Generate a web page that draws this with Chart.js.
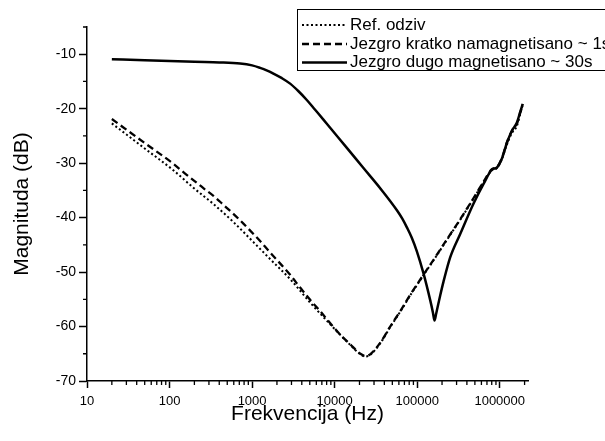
<!DOCTYPE html>
<html>
<head>
<meta charset="utf-8">
<script src="https://cdn.jsdelivr.net/npm/chart.js@4.4.1/dist/chart.umd.min.js"></script>
<style>
  html, body { margin: 0; padding: 0; background: #fff; }
  canvas { display: block; }
</style>
</head>
<body>
<canvas id="c" width="605" height="441"></canvas>
<script>
// Frequency response magnitude (dB) versus frequency (Hz)
const seriesLabels = ['Ref. odziv', 'Jezgro kratko namagnetisano ~ 1s', 'Jezgro dugo magnetisano ~ 30s'];

const refFreq = [20, 50, 111, 194, 340, 593, 1038, 1650, 2890, 5050, 8850, 15500, 20500, 23400, 26900, 35600, 47100, 62200, 82200, 119000, 170000, 229000, 332000, 482000, 637000, 804000, 925000, 1060000, 1220000, 1410000, 1610000, 1770000, 1900000];
const refMag = [-22.7, -27.3, -31.3, -34.5, -37.5, -40.8, -44.5, -47.6, -51.3, -55.6, -59.6, -63.4, -65.1, -65.5, -65.2, -63.1, -60.1, -57.3, -54.3, -50.6, -47.1, -44.1, -40.4, -36.5, -33.5, -31.3, -30.9, -29.3, -26.6, -24.4, -23.2, -21.0, -19.3];

const shortFreq = [20, 50, 111, 147, 194, 257, 340, 449, 593, 785, 1038, 1250, 1650, 2180, 2890, 3800, 5050, 6690, 8850, 11700, 15500, 20500, 23400, 26900, 35600, 47100, 62200, 82200, 119000, 170000, 229000, 332000, 482000, 637000, 804000, 925000, 1060000, 1220000, 1410000, 1610000, 1770000, 1900000];
const shortMag = [-21.9, -26.3, -30.1, -31.65, -33.1, -34.6, -36.0, -37.65, -39.3, -41.1, -43.0, -44.3, -46.4, -48.4, -50.5, -52.8, -55.1, -57.2, -59.4, -61.5, -63.3, -65.0, -65.4, -65.1, -63.0, -60.0, -57.2, -54.2, -50.5, -47.0, -44.0, -40.3, -36.4, -33.4, -31.1, -30.7, -29.1, -26.2, -24.0, -22.8, -20.8, -19.2];

const longFreq = [20, 50, 100, 200, 400, 716, 1000, 1250, 1500, 1813, 2300, 2890, 3650, 4600, 5800, 7310, 8820, 14060, 22340, 35600, 56800, 66000, 75000, 86000, 99100, 119000, 144000, 155000, 162000, 170000, 190000, 208000, 251000, 332000, 482000, 637000, 804000, 925000, 1060000, 1220000, 1410000, 1610000, 1770000, 1900000];
const longMag = [-10.9, -11.1, -11.25, -11.4, -11.5, -11.7, -12.05, -12.5, -12.95, -13.55, -14.4, -15.4, -16.8, -18.4, -20.2, -22.0, -23.5, -27.2, -30.9, -34.6, -38.65, -40.2, -41.8, -43.7, -46.2, -50.2, -55.2, -57.4, -58.9, -57.6, -54.3, -51.8, -47.3, -43.0, -37.4, -33.8, -31.2, -30.8, -29.2, -26.3, -24.0, -22.6, -20.6, -19.1];

const xTickValues = [10, 100, 1000, 10000, 100000, 1000000];
const yTickValues = [-70, -60, -50, -40, -30, -20, -10];

const FONT = '"Liberation Sans", Arial, sans-serif';
const toPoints = (fs, ms) => fs.map((f, i) => ({ x: f, y: ms[i] }));

// Short minor tick marks on both axes (outside the plot)
const minorTicks = {
  id: 'minorTicks',
  afterDraw(chart) {
    const { ctx, scales: { x, y } } = chart;
    ctx.save();
    ctx.strokeStyle = '#000';
    ctx.lineWidth = 1.3;
    ctx.beginPath();
    for (const d of xTickValues.concat([10000000])) {
      for (let m = 2; m <= 9; m++) {
        const v = d * m;
        if (v > x.max) continue;
        const px = x.getPixelForValue(v);
        ctx.moveTo(px, x.top);
        ctx.lineTo(px, x.top + 4);
      }
    }
    for (const t of yTickValues) {
      const v = t + 5;
      if (v > y.max) continue;
      const py = y.getPixelForValue(v);
      ctx.moveTo(y.right - 4, py);
      ctx.lineTo(y.right, py);
    }
    ctx.stroke();
    ctx.restore();
  }
};

// Framed legend in the upper right corner
const boxLegend = {
  id: 'boxLegend',
  afterDraw(chart) {
    const ctx = chart.ctx;
    const left = 297.5, top = 9.5, bottom = 70.5;
    const baselines = [29.5, 48.5, 67];
    ctx.save();
    ctx.fillStyle = '#fff';
    ctx.fillRect(left, top, 400, bottom - top);
    ctx.strokeStyle = '#000';
    ctx.lineWidth = 1;
    ctx.strokeRect(left, top, 400, bottom - top);
    chart.data.datasets.forEach((ds, i) => {
      const yy = baselines[i] - 4.5;
      ctx.setLineDash(ds.borderDash || []);
      ctx.lineWidth = ds.borderWidth;
      ctx.strokeStyle = ds.borderColor;
      ctx.beginPath();
      ctx.moveTo(302, yy);
      ctx.lineTo(347, yy);
      ctx.stroke();
      ctx.setLineDash([]);
      ctx.fillStyle = '#000';
      ctx.font = '17px ' + FONT;
      ctx.textBaseline = 'alphabetic';
      ctx.textAlign = 'left';
      ctx.fillText(ds.label, 350, baselines[i]);
    });
    ctx.restore();
  }
};

new Chart(document.getElementById('c'), {
  type: 'line',
  data: {
    datasets: [
      { label: seriesLabels[0], data: toPoints(refFreq, refMag), borderColor: '#000', borderWidth: 2, borderDash: [2, 2.5], pointRadius: 0, cubicInterpolationMode: 'monotone', fill: false },
      { label: seriesLabels[1], data: toPoints(shortFreq, shortMag), borderColor: '#000', borderWidth: 2.3, borderDash: [7, 4], pointRadius: 0, cubicInterpolationMode: 'monotone', fill: false },
      { label: seriesLabels[2], data: toPoints(longFreq, longMag), borderColor: '#000', borderWidth: 2.5, pointRadius: 0, cubicInterpolationMode: 'monotone', fill: false }
    ]
  },
  options: {
    responsive: false,
    animation: false,
    devicePixelRatio: 1,
    layout: { padding: { top: 27, right: 77, left: 0, bottom: 0 } },
    plugins: { legend: { display: false }, tooltip: { enabled: false } },
    scales: {
      x: {
        type: 'logarithmic',
        min: 10,
        max: 2200000,
        afterBuildTicks: (s) => { s.ticks = xTickValues.map(v => ({ value: v })); },
        afterFit: (s) => { s.height = 60; },
        border: { display: true, color: '#000', width: 1.5 },
        grid: { display: true, drawOnChartArea: false, drawTicks: true, tickLength: 7, tickColor: '#000', tickWidth: 1.5 },
        ticks: { autoSkip: false, maxRotation: 0, color: '#000', padding: 6, font: { family: FONT, size: 13 }, callback: (v) => String(v) },
        title: { display: true, text: 'Frekvencija (Hz)', color: '#000', font: { family: FONT, size: 21 }, padding: { top: 0, bottom: 14 } }
      },
      y: {
        type: 'linear',
        min: -70,
        max: -5,
        afterBuildTicks: (s) => { s.ticks = yTickValues.map(v => ({ value: v })); },
        afterFit: (s) => { s.width = 87; },
        border: { display: true, color: '#000', width: 1.5 },
        grid: { display: true, drawOnChartArea: false, drawTicks: true, tickLength: 8, tickColor: '#000', tickWidth: 1.5 },
        ticks: { color: '#000', padding: 3, font: { family: FONT, size: 14 }, callback: (v) => String(v) },
        title: { display: true, text: 'Magnituda (dB)', color: '#000', font: { family: FONT, size: 21 }, padding: { top: 10, bottom: 0 } }
      }
    }
  },
  plugins: [minorTicks, boxLegend]
});
</script>
</body>
</html>
